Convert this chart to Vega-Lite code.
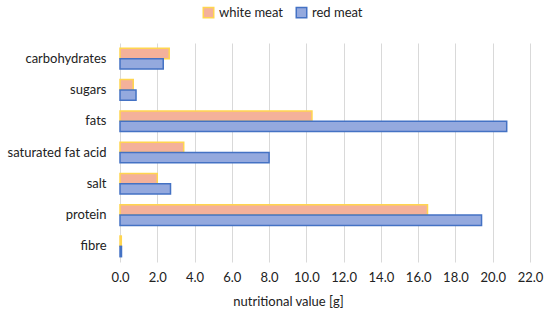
{
  "$schema": "https://vega.github.io/schema/vega-lite/v6.json",
  "width": 410,
  "height": 219,
  "autosize": "none",
  "padding": {"left": 120, "top": 43, "right": 20, "bottom": 58},
  "background": "white",
  "config": {
    "font": "Lato",
    "view": {"stroke": null}
  },
  "data": {
    "values": [
      {"nutrient": "carbohydrates", "meat": "white meat", "value": 2.64},
      {"nutrient": "carbohydrates", "meat": "red meat", "value": 2.32},
      {"nutrient": "sugars", "meat": "white meat", "value": 0.71},
      {"nutrient": "sugars", "meat": "red meat", "value": 0.86},
      {"nutrient": "fats", "meat": "white meat", "value": 10.3},
      {"nutrient": "fats", "meat": "red meat", "value": 20.75},
      {"nutrient": "saturated fat acid", "meat": "white meat", "value": 3.42},
      {"nutrient": "saturated fat acid", "meat": "red meat", "value": 8.0},
      {"nutrient": "salt", "meat": "white meat", "value": 2.0},
      {"nutrient": "salt", "meat": "red meat", "value": 2.71},
      {"nutrient": "protein", "meat": "white meat", "value": 16.5},
      {"nutrient": "protein", "meat": "red meat", "value": 19.4},
      {"nutrient": "fibre", "meat": "white meat", "value": 0.07},
      {"nutrient": "fibre", "meat": "red meat", "value": 0.08}
    ]
  },
  "mark": {"type": "bar", "strokeWidth": 1.5},
  "encoding": {
    "y": {
      "field": "nutrient",
      "type": "nominal",
      "sort": ["carbohydrates", "sugars", "fats", "saturated fat acid", "salt", "protein", "fibre"],
      "scale": {"paddingInner": 0.34, "paddingOuter": 0.17},
      "axis": {"title": null, "ticks": false, "domain": false, "labelFontSize": 13, "labelColor": "#222", "labelPadding": 14}
    },
    "yOffset": {
      "field": "meat",
      "type": "nominal",
      "sort": ["white meat", "red meat"]
    },
    "x": {
      "field": "value",
      "type": "quantitative",
      "scale": {"domain": [0, 22], "nice": false},
      "axis": {
        "values": [0, 2, 4, 6, 8, 10, 12, 14, 16, 18, 20, 22],
        "format": ".1f",
        "title": "nutritional value [g]",
        "titleX": 168,
        "titleAlign": "center",
        "titleFontWeight": "normal",
        "titleFontSize": 13,
        "titleColor": "#222",
        "titlePadding": 11,
        "labelFontSize": 13,
        "labelColor": "#222",
        "labelPadding": 9,
        "labelFlush": false,
        "labelOverlap": false,
        "ticks": false,
        "domain": false,
        "grid": true,
        "gridColor": "#d9d9d9",
        "gridWidth": 1
      }
    },
    "color": {
      "field": "meat",
      "type": "nominal",
      "sort": ["white meat", "red meat"],
      "scale": {"domain": ["white meat", "red meat"], "range": ["#F4B19A", "#94A9DE"]},
      "legend": {
        "title": null,
        "orient": "none",
        "direction": "horizontal",
        "legendX": 82,
        "legendY": -37,
        "symbolType": "square",
        "symbolSize": 110,
        "symbolStrokeWidth": 1.5,
        "labelFontSize": 13,
        "labelColor": "#222",
        "columnPadding": 10
      }
    },
    "stroke": {
      "field": "meat",
      "type": "nominal",
      "sort": ["white meat", "red meat"],
      "scale": {"domain": ["white meat", "red meat"], "range": ["#FFD54F", "#4472C4"]},
      "legend": null
    }
  }
}
